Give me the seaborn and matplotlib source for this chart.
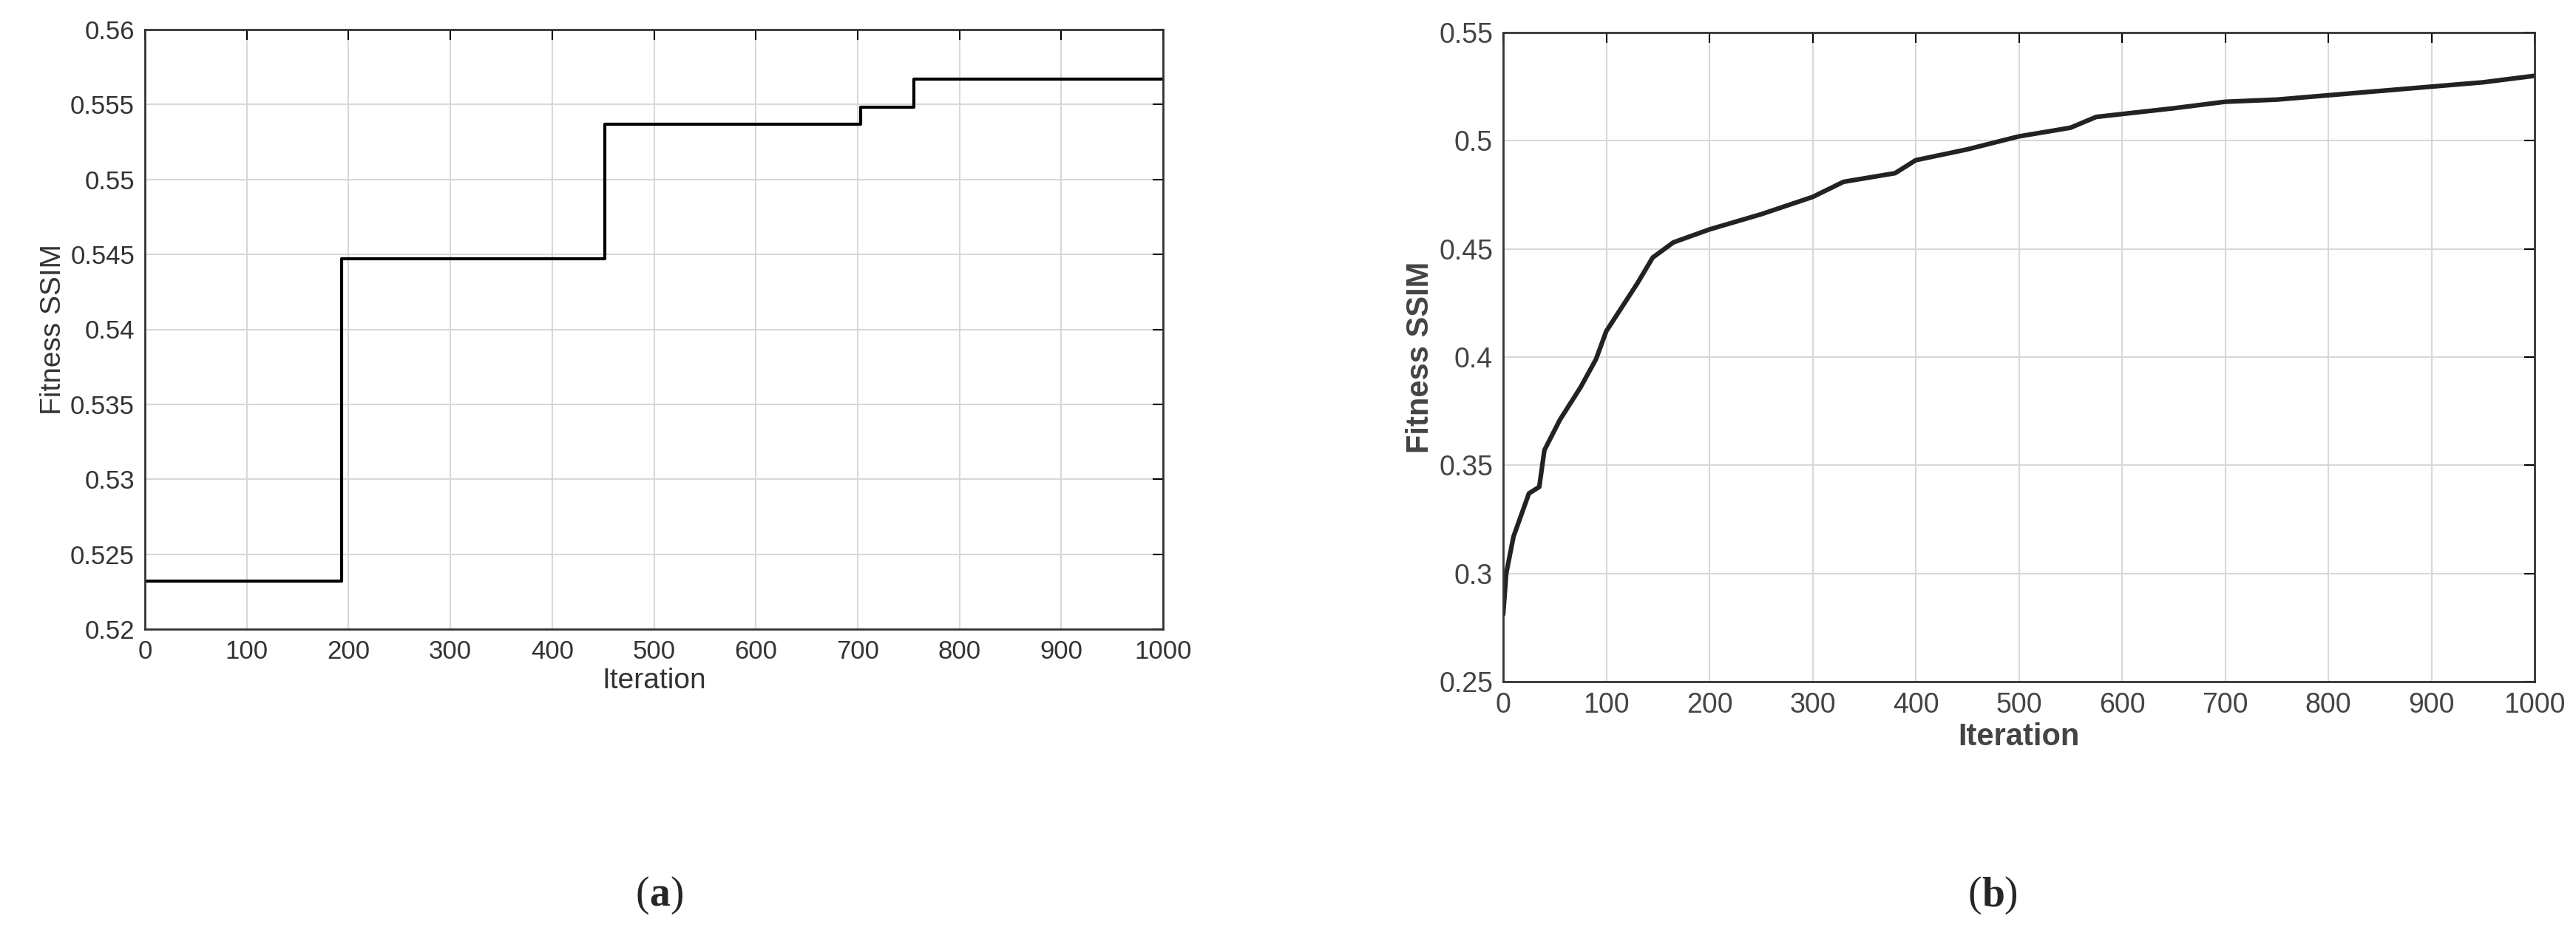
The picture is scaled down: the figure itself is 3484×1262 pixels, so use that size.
import numpy as np
import pandas as pd
import matplotlib
matplotlib.use("Agg")
import matplotlib.pyplot as plt
import seaborn as sns

sns.set_theme(style="white")
plt.rcParams['font.family'] = ['Liberation Sans', 'DejaVu Sans']

# Panel (a): step data
a_iter = [0, 193, 452, 703, 755, 1000]
a_ssim = [0.5232, 0.5447, 0.5537, 0.5548, 0.5567, 0.5567]

# Panel (b): curve data
b_iter = [0, 3, 10, 25, 35, 40, 55, 75, 90, 100, 115, 130, 145, 165, 200, 250, 300,
          330, 380, 400, 450, 500, 550, 575, 650, 700, 750, 800, 900, 950, 1000]
b_ssim = [0.281, 0.300, 0.317, 0.337, 0.340, 0.357, 0.371, 0.386, 0.399, 0.412, 0.423,
          0.434, 0.446, 0.453, 0.459, 0.466, 0.474, 0.481, 0.485, 0.491, 0.496, 0.502,
          0.506, 0.511, 0.515, 0.518, 0.519, 0.521, 0.525, 0.527, 0.530]

fig = plt.figure(figsize=(34.84, 12.62), dpi=100)
ax1 = fig.add_axes([196/3484, 1-851/1262, (1573-196)/3484, (851-40)/1262])
ax2 = fig.add_axes([2033/3484, 1-922/1262, (3428-2033)/3484, (922-44)/1262])

dfa = pd.DataFrame({"Iteration": a_iter, "SSIM": a_ssim})
dfb = pd.DataFrame({"Iteration": b_iter, "SSIM": b_ssim})
sns.lineplot(data=dfa, x="Iteration", y="SSIM", ax=ax1, color="black", lw=3, drawstyle="steps-post")
sns.lineplot(data=dfb, x="Iteration", y="SSIM", ax=ax2, color="#222222", lw=4.5)

def style(ax, ylim, yticks, ylabels, fs, col, lw_bold=False):
    ax.set_xlim(0, 1000)
    ax.set_ylim(*ylim)
    ax.set_xticks(range(0, 1001, 100))
    ax.set_yticks(yticks)
    ax.set_yticklabels(ylabels)
    ax.grid(True, color="#d8d8d8", lw=1.5, ls="-")
    ax.tick_params(direction="in", length=10, width=1.5, top=True, right=True,
                   labelsize=fs, colors="black", labelcolor=col, pad=10)
    for s in ax.spines.values():
        s.set_color("#333333"); s.set_linewidth(2)
    w = "bold" if lw_bold else "normal"
    ax.set_xlabel("Iteration", fontsize=fs+3, color=col, weight=w)
    ax.set_ylabel("Fitness SSIM", fontsize=fs+3, color=col, weight=w)

yt1 = [0.52, 0.525, 0.53, 0.535, 0.54, 0.545, 0.55, 0.555, 0.56]
style(ax1, (0.52, 0.56), yt1, ["0.52", "0.525", "0.53", "0.535", "0.54", "0.545", "0.55", "0.555", "0.56"], 25, "#333333")
yt2 = [0.25, 0.3, 0.35, 0.4, 0.45, 0.5, 0.55]
style(ax2, (0.25, 0.55), yt2, ["0.25", "0.3", "0.35", "0.4", "0.45", "0.5", "0.55"], 27, "#444444", True)

fig.text(878/3484, 1-1211/1262, "(", fontsize=40, family="Liberation Serif", ha="right", va="center")
fig.text(878/3484, 1-1211/1262, "a", fontsize=40, family="Liberation Serif", weight="bold", ha="left", va="center")
fig.text(906/3484, 1-1211/1262, ")", fontsize=40, family="Liberation Serif", ha="left", va="center")
fig.text(2680/3484, 1-1211/1262, "(", fontsize=40, family="Liberation Serif", ha="right", va="center")
fig.text(2680/3484, 1-1211/1262, "b", fontsize=40, family="Liberation Serif", weight="bold", ha="left", va="center")
fig.text(2710/3484, 1-1211/1262, ")", fontsize=40, family="Liberation Serif", ha="left", va="center")

fig.savefig("out.png", dpi=100, facecolor="white")
